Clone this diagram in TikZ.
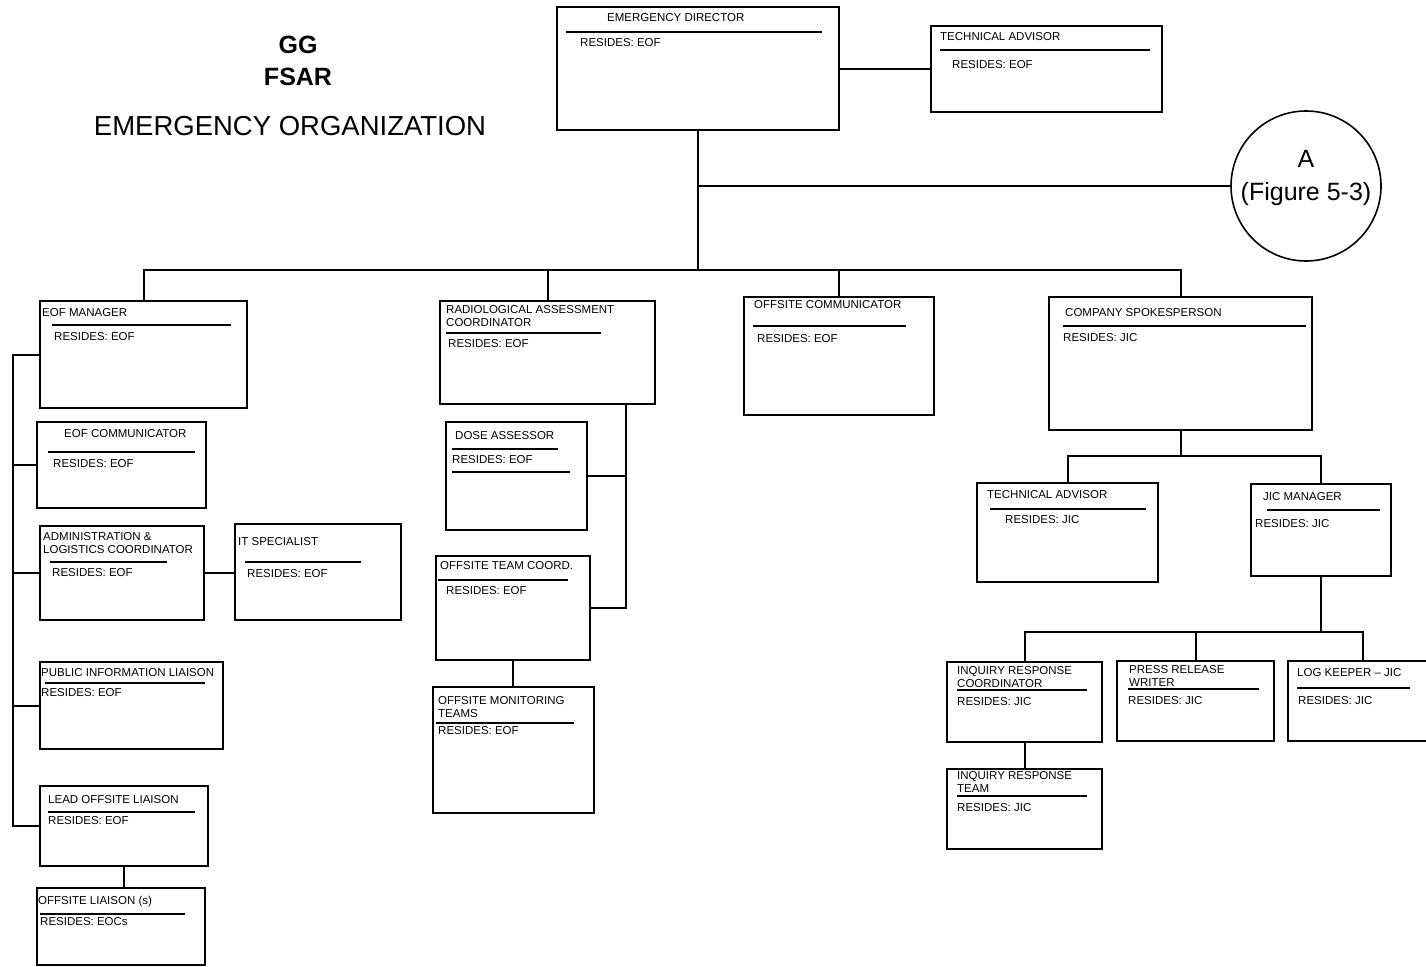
\documentclass[tikz,border=0pt]{standalone}
\usepackage{fontspec}
\setmainfont{Liberation Sans}
\begin{document}
\begin{tikzpicture}[x=1pt,y=-1pt,
  box/.style={draw=black, line width=2.4pt, fill=white, rectangle, inner sep=0pt, anchor=north west},
  conn/.style={draw=black, line width=2.2pt},
  rule/.style={draw=black, line width=2pt},
  txt/.style={inner sep=0pt, anchor=west, font=\fontsize{11.5}{13.5}\selectfont},
  txtm/.style={inner sep=0pt, anchor=north west, align=left, font=\fontsize{11.5}{13.5}\selectfont},
  circ/.style={draw=black, line width=1.6pt, circle, minimum size=150pt, inner sep=0pt},
  circtxt/.style={inner sep=0pt, align=center, font=\fontsize{25}{33}\selectfont}
]
\useasboundingbox (0,0) rectangle (1426,966);

% ---------- title ----------
\node[inner sep=0pt, font=\fontsize{25}{30}\selectfont\bfseries] (tgg) at (298,45) {GG};
\node[inner sep=0pt, font=\fontsize{25}{30}\selectfont\bfseries] (tfsar) at (298,77) {FSAR};
\node[inner sep=0pt, font=\fontsize{27.5}{30}\selectfont] (torg) at (290,126) {EMERGENCY ORGANIZATION};

% ---------- boxes ----------
\node[box, minimum width=282pt, minimum height=123pt] (ed) at (556,6) {};
\node[txt] (ed-t) at (607,18) {EMERGENCY DIRECTOR};
\draw[rule] (566,32) -- (822,32);
\node[txt] (ed-r) at (580,43) {RESIDES: EOF};

\node[box, minimum width=231pt, minimum height=86pt] (ta) at (930,25) {};
\node[txt] (ta-t) at (940,37) {TECHNICAL ADVISOR};
\draw[rule] (940,50) -- (1150,50);
\node[txt] (ta-r) at (952,65) {RESIDES: EOF};

\node[circ] (fig) at (1306,186) {};
\node[circtxt] (fig-l) at (1306,178) {A\\(Figure 5-3)};

\node[box, minimum width=207pt, minimum height=107pt] (eofm) at (39,300) {};
\node[txt] (eofm-t) at (42,313) {EOF MANAGER};
\draw[rule] (52,325) -- (231,325);
\node[txt] (eofm-r) at (54,337) {RESIDES: EOF};

\node[box, minimum width=169pt, minimum height=86pt] (eofc) at (36,421) {};
\node[txt] (eofc-t) at (64,434) {EOF COMMUNICATOR};
\draw[rule] (48,452) -- (195,452);
\node[txt] (eofc-r) at (53,464) {RESIDES: EOF};

\node[box, minimum width=164pt, minimum height=94pt] (adm) at (39,525) {};
\node[txtm] (adm-t) at (43,532) {ADMINISTRATION \&\\LOGISTICS COORDINATOR};
\draw[rule] (50,562) -- (167,562);
\node[txt] (adm-r) at (52,573) {RESIDES: EOF};

\node[box, minimum width=166pt, minimum height=96pt] (it) at (234,523) {};
\node[txt] (it-t) at (238,542) {IT SPECIALIST};
\draw[rule] (245,562) -- (361,562);
\node[txt] (it-r) at (247,574) {RESIDES: EOF};

\node[box, minimum width=183pt, minimum height=87pt] (pil) at (39,661) {};
\node[txt] (pil-t) at (41,673) {PUBLIC INFORMATION LIAISON};
\draw[rule] (45,683) -- (205,683);
\node[txt] (pil-r) at (41,693) {RESIDES: EOF};

\node[box, minimum width=168pt, minimum height=80pt] (lol) at (39,785) {};
\node[txt] (lol-t) at (48,800) {LEAD OFFSITE LIAISON};
\draw[rule] (48,812) -- (195,812);
\node[txt] (lol-r) at (48,821) {RESIDES: EOF};

\node[box, minimum width=168pt, minimum height=77pt] (ol) at (36,887) {};
\node[txt] (ol-t) at (38,902) {OFFSITE LIAISON (s)};
\draw[rule] (40,914) -- (185,914);
\node[txt] (ol-r) at (40,922) {RESIDES: EOCs};

\node[box, minimum width=215pt, minimum height=103pt] (rac) at (439,300) {};
\node[txtm] (rac-t) at (446,305) {RADIOLOGICAL ASSESSMENT\\COORDINATOR};
\draw[rule] (446,333) -- (601,333);
\node[txt] (rac-r) at (448,344) {RESIDES: EOF};

\node[box, minimum width=141pt, minimum height=108pt] (da) at (445,421) {};
\node[txt] (da-t) at (455,436) {DOSE ASSESSOR};
\draw[rule] (452,449) -- (558,449);
\node[txt] (da-r) at (452,460) {RESIDES: EOF};
\draw[rule] (452,472) -- (570,472);

\node[box, minimum width=154pt, minimum height=104pt] (otc) at (435,555) {};
\node[txt] (otc-t) at (440,566) {OFFSITE TEAM COORD.};
\draw[rule] (438,580) -- (568,580);
\node[txt] (otc-r) at (446,591) {RESIDES: EOF};

\node[box, minimum width=161pt, minimum height=126pt] (omt) at (432,686) {};
\node[txtm] (omt-t) at (438,696) {OFFSITE MONITORING\\TEAMS};
\draw[rule] (436,723) -- (574,723);
\node[txt] (omt-r) at (438,731) {RESIDES: EOF};

\node[box, minimum width=190pt, minimum height=118pt] (oc) at (743,296) {};
\node[txt] (oc-t) at (754,305) {OFFSITE COMMUNICATOR};
\draw[rule] (753,326) -- (906,326);
\node[txt] (oc-r) at (757,339) {RESIDES: EOF};

\node[box, minimum width=263pt, minimum height=133pt] (cs) at (1048,296) {};
\node[txt] (cs-t) at (1065,313) {COMPANY SPOKESPERSON};
\draw[rule] (1063,326) -- (1306,326);
\node[txt] (cs-r) at (1063,338) {RESIDES: JIC};

\node[box, minimum width=181pt, minimum height=99pt] (ta2) at (976,482) {};
\node[txt] (ta2-t) at (987,495) {TECHNICAL ADVISOR};
\draw[rule] (990,509) -- (1146,509);
\node[txt] (ta2-r) at (1005,520) {RESIDES: JIC};

\node[box, minimum width=140pt, minimum height=92pt] (jic) at (1250,483) {};
\node[txt] (jic-t) at (1263,497) {JIC MANAGER};
\draw[rule] (1267,510) -- (1380,510);
\node[txt] (jic-r) at (1255,524) {RESIDES: JIC};

\node[box, minimum width=155pt, minimum height=80pt] (irc) at (946,661) {};
\node[txtm] (irc-t) at (957,666) {INQUIRY RESPONSE\\COORDINATOR};
\draw[rule] (957,690) -- (1087,690);
\node[txt] (irc-r) at (957,702) {RESIDES: JIC};

\node[box, minimum width=157pt, minimum height=80pt] (prw) at (1116,660) {};
\node[txtm] (prw-t) at (1129,665) {PRESS RELEASE\\WRITER};
\draw[rule] (1128,689) -- (1259,689);
\node[txt] (prw-r) at (1128,701) {RESIDES: JIC};

\node[box, minimum width=150pt, minimum height=80pt] (lk) at (1287,660) {};
\node[txt] (lk-t) at (1297,673) {LOG KEEPER -- JIC};
\draw[rule] (1297,688) -- (1410,688);
\node[txt] (lk-r) at (1298,701) {RESIDES: JIC};

\node[box, minimum width=155pt, minimum height=80pt] (irt) at (946,768) {};
\node[txtm] (irt-t) at (957,771) {INQUIRY RESPONSE\\TEAM};
\draw[rule] (957,796) -- (1087,796);
\node[txt] (irt-r) at (957,808) {RESIDES: JIC};

% ---------- connectors ----------
\coordinate (bus) at (0,270);
\coordinate (lbus) at (13,0);
\coordinate (rv) at (626,0);
\coordinate (h2) at (0,456);
\coordinate (h3) at (0,632);

\draw[conn] (ed.east) -- (ed.east -| ta.west);
\draw[conn] (ed.south) -- (ed.south |- bus);
\draw[conn] (ed.south |- fig.west) -- (fig.west);
\draw[conn] (eofm.north) -- (eofm.north |- bus) -- (cs.north |- bus) -- (cs.north);
\draw[conn] (rac.north) -- (rac.north |- bus);
\draw[conn] (oc.north) -- (oc.north |- bus);

\draw[conn] (eofm.west) -- (eofm.west -| lbus) -- (lol.west -| lbus) -- (lol.west);
\draw[conn] (eofc.west) -- (eofc.west -| lbus);
\draw[conn] (adm.west) -- (adm.west -| lbus);
\draw[conn] (pil.west) -- (pil.west -| lbus);
\draw[conn] (adm.east) -- (adm.east -| it.west);
\draw[conn] (lol.south) -- (lol.south |- ol.north);

\draw[conn] (rac.south -| rv) -- (otc.east -| rv) -- (otc.east);
\draw[conn] (da.east) -- (da.east -| rv);
\draw[conn] (otc.south) -- (otc.south |- omt.north);

\draw[conn] (cs.south) -- (cs.south |- h2);
\draw[conn] (ta2.north) -- (ta2.north |- h2) -- (jic.north |- h2) -- (jic.north);
\draw[conn] (jic.south) -- (jic.south |- h3);
\draw[conn] (irc.north) -- (irc.north |- h3) -- (lk.north |- h3) -- (lk.north);
\draw[conn] (prw.north) -- (prw.north |- h3);
\draw[conn] (irc.south) -- (irc.south |- irt.north);
\end{tikzpicture}
\end{document}
